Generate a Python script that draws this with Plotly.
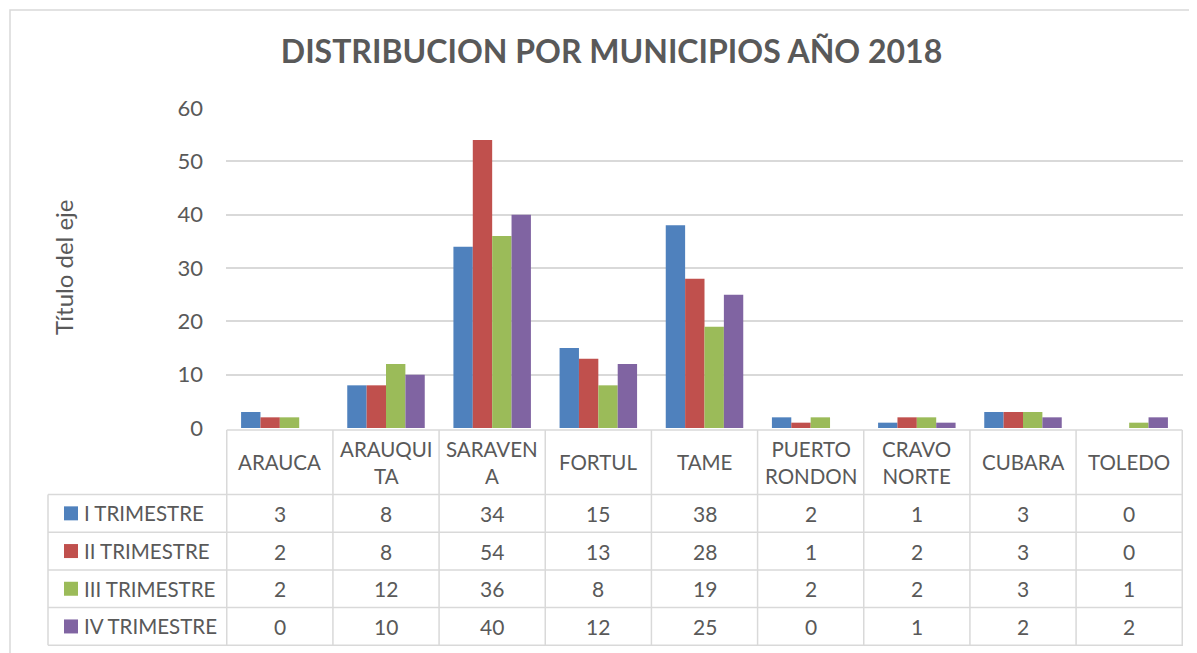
import plotly.graph_objects as go

municipios = ["ARAUCA", "ARAUQUITA", "SARAVENA", "FORTUL", "TAME",
              "PUERTO RONDON", "CRAVO NORTE", "CUBARA", "TOLEDO"]
etiquetas = ["ARAUCA", "ARAUQUI<br>TA", "SARAVEN<br>A", "FORTUL", "TAME",
             "PUERTO<br>RONDON", "CRAVO<br>NORTE", "CUBARA", "TOLEDO"]
series = ["I TRIMESTRE", "II TRIMESTRE", "III TRIMESTRE", "IV TRIMESTRE"]
trim_1 = [3, 8, 34, 15, 38, 2, 1, 3, 0]
trim_2 = [2, 8, 54, 13, 28, 1, 2, 3, 0]
trim_3 = [2, 12, 36, 8, 19, 2, 2, 3, 1]
trim_4 = [0, 10, 40, 12, 25, 0, 1, 2, 2]
valores = [trim_1, trim_2, trim_3, trim_4]
colores = ["#4F81BD", "#C0504D", "#9BBB59", "#8064A2"]
y_ticks = [0, 10, 20, 30, 40, 50, 60]

FONT = "Lato"
GRIS = "#595959"
LINEA = "#d9d9d9"

# page body margin offset (browser default)
O = 8
# plot area in page pixels
L, R, T, B = 226, 1183, 108, 428
W, H = R - L, B - T


def px(x):
    return (x - L) / W


def py(y):
    return (B - y) / H


fig = go.Figure()
for nombre, vals, col in zip(series, valores, colores):
    fig.add_trace(go.Bar(x=municipios, y=vals, name=nombre,
                         marker=dict(color=col, line=dict(width=0))))

shapes = []
annotations = []

# chart border
shapes.append(dict(type="rect", xref="paper", yref="paper",
                   x0=px(10), x1=px(1215), y0=py(10), y1=py(680),
                   line=dict(color=LINEA, width=1.5), layer="below"))

# table geometry
header_top, header_bot = 430, 494.5
row_h = 37.7
row_tops = [header_bot + i * row_h for i in range(5)]
left_x = 48

shapes.append(dict(type="line", xref="x", yref="paper",
                   x0=-0.5, x1=len(municipios) - 0.5,
                   y0=py(header_top), y1=py(header_top),
                   line=dict(color=LINEA, width=1.5)))
for yy in row_tops:
    shapes.append(dict(type="line", xref="paper", yref="paper",
                       x0=px(left_x), x1=1, y0=py(yy), y1=py(yy),
                       line=dict(color=LINEA, width=1.5)))
for i in range(len(municipios) + 1):
    shapes.append(dict(type="line", xref="x", yref="paper",
                       x0=i - 0.5, x1=i - 0.5,
                       y0=py(header_top), y1=py(row_tops[-1]),
                       line=dict(color=LINEA, width=1.5)))
shapes.append(dict(type="line", xref="paper", yref="paper",
                   x0=px(left_x), x1=px(left_x),
                   y0=py(row_tops[0]), y1=py(row_tops[-1]),
                   line=dict(color=LINEA, width=1.5)))

for m, lab in zip(municipios, etiquetas):
    annotations.append(dict(x=m, xref="x", yref="paper",
                            y=py((header_top + header_bot) / 2),
                            text=lab, showarrow=False,
                            font=dict(family=FONT, size=20.5, color=GRIS),
                            align="center", xanchor="center",
                            yanchor="middle"))

for r, (nombre, vals, col) in enumerate(zip(series, valores, colores)):
    yc = (row_tops[r] + row_tops[r + 1]) / 2
    shapes.append(dict(type="rect", xref="paper", yref="paper",
                       x0=px(64), x1=px(78), y0=py(yc - 7), y1=py(yc + 7),
                       fillcolor=col, line=dict(width=0)))
    annotations.append(dict(x=px(82), xref="paper", yref="paper", y=py(yc),
                            text=nombre, showarrow=False, xanchor="left",
                            yanchor="middle",
                            font=dict(family=FONT, size=20.5, color=GRIS)))
    for m, v in zip(municipios, vals):
        annotations.append(dict(x=m, xref="x", yref="paper", y=py(yc),
                                text=str(v), showarrow=False,
                                xanchor="center", yanchor="middle",
                                font=dict(family=FONT, size=21, color=GRIS)))

annotations.append(dict(x=px(63), y=py(268), xref="paper", yref="paper",
                        text="Título del eje", textangle=-90, showarrow=False,
                        xanchor="center", yanchor="middle",
                        font=dict(family=FONT, size=24, color=GRIS)))

fig.update_layout(
    width=1197 - O, height=653 - O,
    margin=dict(l=L - O, r=1197 - R, t=T - O, b=653 - B),
    paper_bgcolor="white", plot_bgcolor="white",
    barmode="group", bargap=0.27, bargroupgap=0,
    showlegend=False,
    title=dict(text="<b>DISTRIBUCION POR MUNICIPIOS AÑO 2018</b>",
               x=px(611.5), xanchor="center", xref="paper",
               y=1 - (52 - O) / (653 - O), yanchor="middle",
               font=dict(family=FONT, size=32, color=GRIS)),
    xaxis=dict(showticklabels=False, showgrid=False, zeroline=False,
               showline=False, ticks=""),
    yaxis=dict(range=[0, 60], tickvals=y_ticks, showgrid=True,
               gridcolor=LINEA, gridwidth=1.5, zeroline=False,
               showline=False, ticks="", ticklabelstandoff=22,
               tickfont=dict(family=FONT, size=22, color=GRIS)),
    shapes=shapes, annotations=annotations,
)

fig.write_html("out.html")
